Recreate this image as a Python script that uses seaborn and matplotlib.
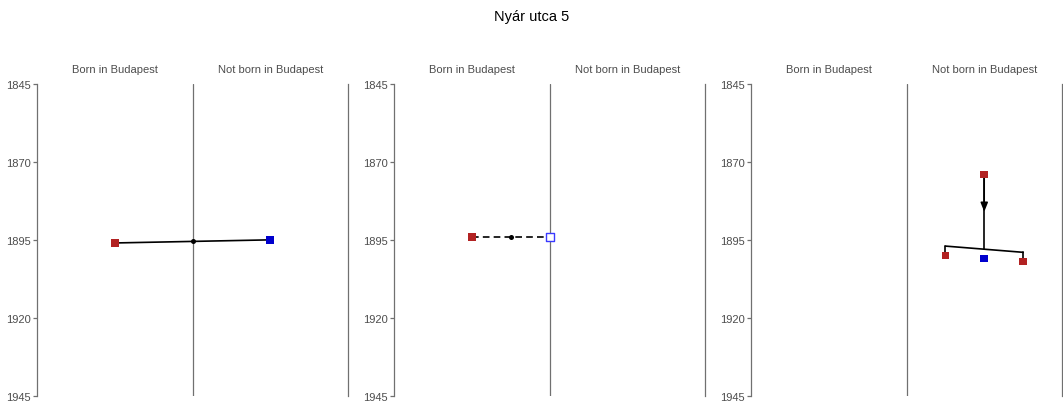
import matplotlib
matplotlib.use("Agg")
import matplotlib.pyplot as plt
import seaborn as sns
import pandas as pd

# ---- data ----
title = "Nyár utca 5"
columns = ["Born in Budapest", "Not born in Budapest"]
y_ticks = [1845, 1870, 1895, 1920, 1945]

# panel 1: two spouses joined by a line with a midpoint
p1_groups = ["Born in Budapest", "Not born in Budapest"]
p1_years = [1896, 1895]
p1_colors = ["red", "blue"]

# panel 2: one spouse, the other of unknown birthplace (open marker on the border)
p2_groups = ["Born in Budapest", "border"]
p2_years = [1894, 1894]
p2_colors = ["red", "blue_open"]

# panel 3: parent, then children
p3_parent_group = "Not born in Budapest"
p3_parent_year = 1874
p3_child_groups = ["Not born in Budapest", "Not born in Budapest", "Not born in Budapest"]
p3_child_slots = ["left", "center", "right"]
p3_child_years = [1900, 1901, 1902]
p3_child_colors = ["red", "blue", "red"]

# ---- styling ----
sns.set_theme(style="white")
plt.rcParams["font.family"] = ["Liberation Sans", "DejaVu Sans"]

RED = "#B22222"
BLUE = "#0000CD"
SPINE = "#707070"
TXT = "#4d4d4d"
col_map = {"red": RED, "blue": BLUE}

center = {"Born in Budapest": 0.5, "Not born in Budapest": 1.5, "border": 1.0}
slot_off = {"left": -0.25, "center": 0.0, "right": 0.25}

W, H = 1063, 402
fig = plt.figure(figsize=(W / 100, H / 100), dpi=100)
lefts = [37, 394, 751]
pw = 311
top_px, bot_px = 85, 396.7
axes = []
for lp in lefts:
    ax = fig.add_axes([lp / W, 1 - bot_px / H, pw / W, (bot_px - top_px) / H])
    axes.append(ax)

for ax in axes:
    ax.set_xlim(0, 2)
    ax.set_ylim(1945, 1845)
    ax.set_yticks(y_ticks)
    ax.set_xticks([])
    for s in ["top", "bottom"]:
        ax.spines[s].set_visible(False)
    for s in ["left", "right"]:
        ax.spines[s].set_color(SPINE)
        ax.spines[s].set_linewidth(0.9)
    ax.axvline(1.0, color=SPINE, lw=0.9, zorder=0)
    ax.tick_params(axis="y", left=True, length=3, width=0.9, color=SPINE,
                   labelsize=8, labelcolor=TXT, pad=1.5)
    for c in columns:
        ax.annotate(c, xy=(center[c], 1.0), xycoords=("data", "axes fraction"),
                    xytext=(0, 7), textcoords="offset points",
                    ha="center", va="bottom", fontsize=8, color=TXT)

MS = 30

# ---- panel 1 ----
ax = axes[0]
xs = [center[g] for g in p1_groups]
mx, my = sum(xs) / 2, sum(p1_years) / 2
ax.plot(xs, p1_years, color="black", lw=1.2, zorder=2)
sns.scatterplot(x=[mx], y=[my], ax=ax, color="black", s=13, linewidth=0, zorder=3, legend=False)
df1 = pd.DataFrame({"x": xs, "y": p1_years, "c": p1_colors})
sns.scatterplot(data=df1, x="x", y="y", hue="c", palette=col_map, marker="s",
                s=MS, linewidth=0, ax=ax, legend=False, zorder=4)

# ---- panel 2 ----
ax = axes[1]
xs = [center[g] for g in p2_groups]
mx, my = sum(xs) / 2, sum(p2_years) / 2
ax.plot(xs, p2_years, color="black", lw=1.2, ls=(0, (4, 2.5)), zorder=2)
sns.scatterplot(x=[mx], y=[my], ax=ax, color="black", s=13, linewidth=0, zorder=3, legend=False)
for x, y, c in zip(xs, p2_years, p2_colors):
    if c == "blue_open":
        sns.scatterplot(x=[x], y=[y], ax=ax, marker="s", s=26, facecolor="white",
                        edgecolor="#3a3aff", linewidth=1.0, zorder=4, legend=False)
    else:
        sns.scatterplot(x=[x], y=[y], ax=ax, marker="s", s=MS, color=col_map[c],
                        linewidth=0, zorder=4, legend=False)

# ---- panel 3 ----
ax = axes[2]
px = center[p3_parent_group]
cx = [center[g] + slot_off[s] for g, s in zip(p3_child_groups, p3_child_slots)]
outer = [i for i, s in enumerate(p3_child_slots) if s != "center"]
bar_x = [cx[i] for i in outer]
bar_y = [p3_child_years[i] - 3 for i in outer]
ax.plot(bar_x, bar_y, color="black", lw=1.2, zorder=2)
for i in outer:
    ax.plot([cx[i], cx[i]], [p3_child_years[i] - 3, p3_child_years[i]], color="black", lw=1.2, zorder=2)
bar_mid = sum(bar_y) / 2
ax.plot([px, px], [p3_parent_year, bar_mid], color="black", lw=1.2, zorder=2)
arrow_mid = (p3_parent_year + bar_mid) / 2
ax.annotate("", xy=(px, arrow_mid), xytext=(px, p3_parent_year),
            arrowprops=dict(arrowstyle="-|>,head_length=0.45,head_width=0.18",
                            color="black", lw=1.1, shrinkA=0, shrinkB=0), zorder=2)
df3 = pd.DataFrame({"x": [px] + cx, "y": [p3_parent_year] + p3_child_years,
                    "c": ["red"] + p3_child_colors})
sns.scatterplot(data=df3, x="x", y="y", hue="c", palette=col_map, marker="s",
                s=MS, linewidth=0, ax=ax, legend=False, zorder=4)

for ax in axes:
    ax.set_xlabel(""); ax.set_ylabel("")
    ax.set_xlim(0, 2); ax.set_ylim(1945, 1845)

fig.text(0.5, 1 - 17 / H, title, ha="center", va="center", fontsize=10.5, color="black")

fig.savefig("out.png", dpi=100, facecolor="white")
